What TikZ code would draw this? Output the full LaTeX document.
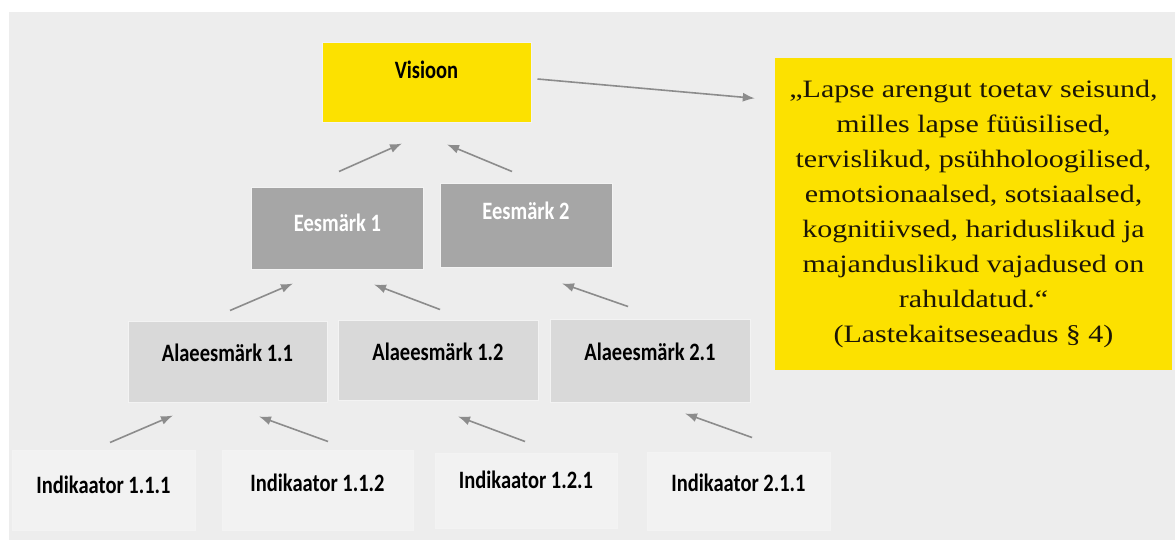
\documentclass[tikz,border=0pt]{standalone}
\usepackage{fontspec}
\usetikzlibrary{arrows.meta}
\newfontfamily\boxfont{Carlito}[FakeStretch=0.82]
\newfontfamily\quotefont{Liberation Serif}[FakeStretch=1.2]
\newcommand\lblfont{\boxfont\bfseries\fontsize{25pt}{30pt}\selectfont}
\newcommand\qtfont{\quotefont\fontsize{25pt}{35pt}\selectfont}
\definecolor{bggray}{HTML}{EDEDED}
\definecolor{visyellow}{HTML}{FCE100}
\definecolor{goalgray}{HTML}{A6A6A6}
\definecolor{subgray}{HTML}{D9D9D9}
\definecolor{indgray}{HTML}{F2F2F2}
\definecolor{arrgray}{HTML}{8C8C8C}
\definecolor{quotetext}{HTML}{1C1606}
\begin{document}
\begin{tikzpicture}[x=1pt,y=-1pt,
  box/.style={rectangle, inner sep=0pt, draw=white!35!bggray, line width=1pt, font=\lblfont, align=center},
  vision/.style={box, fill=visyellow, text=black, minimum width=209pt, text height=36pt, text depth=44pt},
  goal/.style={box, fill=goalgray, text=white, minimum width=172pt, text height=40pt, text depth=42pt},
  subgoal/.style={box, fill=subgray, text=black, minimum width=200pt, text height=40pt, text depth=41pt},
  indicator/.style={box, fill=indgray, text=black, minimum width=183pt, text height=41pt, text depth=39pt},
  arr/.style={-{Latex[length=12pt,width=9pt]}, draw=arrgray, fill=arrgray, line width=1.6pt}]
\fill[white] (0,0) rectangle (1175,540);
\fill[bggray] (9,12) rectangle (1175,540);
\useasboundingbox (0,0) rectangle (1175,540);

\node[vision](vis) at (426.5,83) {Visioon};
\node[rectangle, fill=visyellow, inner sep=0pt, minimum width=397pt, minimum height=311pt,
  font=\qtfont, text=quotetext, align=center](quote) at (973.5,214)
  {„Lapse arengut toetav seisund,\\ milles lapse füüsilised,\\ tervislikud, psühholoogilised,\\
   emotsionaalsed, sotsiaalsed,\\ kognitiivsed, hariduslikud ja\\ majanduslikud vajadused on\\
   rahuldatud.“\\ (Lastekaitseseadus § 4)};

\node[goal, text height=44pt, text depth=37pt](goal1) at (337.5,228.5) {Eesmärk 1};
\node[goal, text height=36pt, text depth=47pt](goal2) at (526,225.5) {Eesmärk 2};

\node[subgoal, minimum width=199pt](sub11) at (227.5,361.5) {Alaeesmärk 1.1};
\node[subgoal, text depth=40pt](sub12) at (438,360) {Alaeesmärk 1.2};
\node[subgoal, text height=41pt, text depth=42pt](sub21) at (650,360.5) {Alaeesmärk 2.1};

\node[indicator, text height=43pt, text depth=37pt](ind111) at (103.5,490) {Indikaator 1.1.1};
\node[indicator, minimum width=191pt](ind112) at (317.5,490) {Indikaator 1.1.2};
\node[indicator, minimum width=182pt, text height=35pt, text depth=40pt](ind121) at (526,490.5) {Indikaator 1.2.1};
\node[indicator, text height=39pt, text depth=39pt](ind211) at (738.5,491) {Indikaator 2.1.1};

\draw[arr] ([xshift=6pt,yshift=4pt]vis.east) -- ([xshift=-20pt,yshift=-40pt]quote.north west);

\draw[arr] ([xshift=1.5pt,yshift=16pt]goal1.north) -- ([xshift=-24.5pt,yshift=-20pt]vis.south);
\draw[arr] ([xshift=-14pt,yshift=12pt]goal2.north) -- ([xshift=20.5pt,yshift=-21pt]vis.south);

\draw[arr] ([xshift=2.5pt,yshift=10pt]sub11.north) -- ([xshift=-44.5pt,yshift=-14pt]goal1.south);
\draw[arr] ([xshift=2pt,yshift=10pt]sub12.north) -- ([xshift=36.5pt,yshift=-15pt]goal1.south);
\draw[arr] ([xshift=-22pt,yshift=12pt]sub21.north) -- ([xshift=36pt,yshift=-16pt]goal2.south);

\draw[arr] ([xshift=6.5pt,yshift=7pt]ind111.north) -- ([xshift=-54.5pt,yshift=-13pt]sub11.south);
\draw[arr] ([xshift=10.5pt,yshift=8pt]ind112.north) -- ([xshift=31.5pt,yshift=-14pt]sub11.south);
\draw[arr] ([xshift=-1pt,yshift=11pt]ind121.north) -- ([xshift=20pt,yshift=-16pt]sub12.south);
\draw[arr] ([xshift=13.5pt,yshift=14pt]ind211.north) -- ([xshift=35pt,yshift=-11pt]sub21.south);
\end{tikzpicture}
\end{document}
